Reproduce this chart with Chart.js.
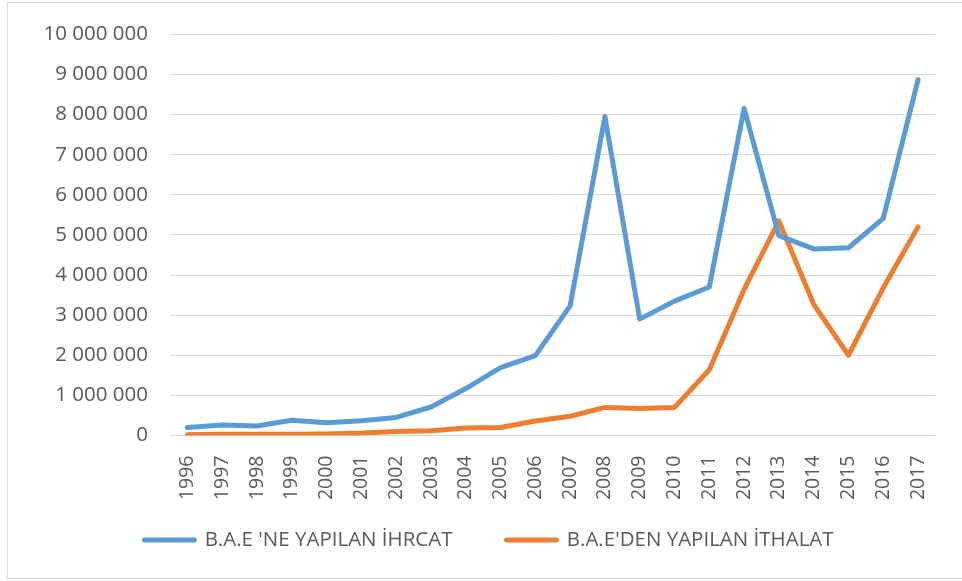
<!DOCTYPE html>
<html>
<head>
<meta charset="utf-8">
<script src="https://cdn.jsdelivr.net/npm/chart.js@4/dist/chart.umd.min.js"></script>
<style>
  html, body { margin: 0; padding: 0; background: #fff; }
  #wrap { position: relative; width: 962px; height: 581px; overflow: hidden; }
  #frame { position: absolute; left: 7px; top: 2px; width: 980px; height: 575px; border: 1px solid #d9d9d9; box-sizing: content-box; pointer-events: none; }
  canvas { position: absolute; left: 0; top: 0; }
</style>
</head>
<body>
<div id="wrap">
  <canvas id="c" width="962" height="581"></canvas>
  <div id="frame"></div>
</div>
<script>
const years = ['1996','1997','1998','1999','2000','2001','2002','2003','2004','2005','2006','2007','2008','2009','2010','2011','2012','2013','2014','2015','2016','2017'];
const ihracat = [200000, 260000, 235000, 380000, 320000, 370000, 450000, 710000, 1170000, 1690000, 1990000, 3230000, 7950000, 2900000, 3350000, 3700000, 8150000, 4980000, 4650000, 4680000, 5410000, 8870000];
const ithalat = [20000, 30000, 30000, 30000, 40000, 60000, 100000, 120000, 185000, 200000, 360000, 480000, 700000, 670000, 700000, 1640000, 3640000, 5350000, 3270000, 2000000, 3680000, 5200000];
const seriesNames = ["B.A.E 'NE YAPILAN İHRCAT", "B.A.E'DEN YAPILAN İTHALAT"];
const yTicks = [0, 1000000, 2000000, 3000000, 4000000, 5000000, 6000000, 7000000, 8000000, 9000000, 10000000];

const FONT = { family: "'Open Sans', 'DejaVu Sans', sans-serif", size: 20.5 };
const XFONT = { family: "'Open Sans', 'DejaVu Sans', sans-serif", size: 19.5 };
const TEXT = '#595959';
const LEG_PAD = 54;

function fmt(v) {
  return String(v).replace(/\B(?=(\d{3})+(?!\d))/g, ' ');
}

// let the rotated x labels extend past the (shortened) axis box without being clipped
const unclipX = {
  id: 'unclipX',
  afterLayout(chart) {
    const x = chart.scales.x;
    x.bottom = x.top + 80;
  }
};

new Chart(document.getElementById('c'), {
  type: 'line',
  plugins: [unclipX],
  data: {
    labels: years,
    datasets: [
      {
        label: seriesNames[0],
        data: ihracat,
        borderColor: '#5B9BD5',
        backgroundColor: '#5B9BD5',
        borderWidth: 5,
        pointRadius: 0,
        tension: 0,
        borderCapStyle: 'round',
        borderJoinStyle: 'round'
      },
      {
        label: seriesNames[1],
        data: ithalat,
        borderColor: '#ED7D31',
        backgroundColor: '#ED7D31',
        borderWidth: 5,
        pointRadius: 0,
        tension: 0,
        borderCapStyle: 'round',
        borderJoinStyle: 'round'
      }
    ]
  },
  options: {
    responsive: false,
    animation: false,
    layout: { padding: { left: 40, right: 24, top: 31, bottom: 20.75 } },
    plugins: {
      tooltip: { enabled: false },
      legend: {
        position: 'bottom',
        align: 'center',
        labels: {
          boxWidth: 50,
          boxHeight: 0.01,
          padding: LEG_PAD,
          color: TEXT,
          font: FONT
        }
      }
    },
    scales: {
      x: {
        offset: true,
        grid: { display: false, drawTicks: false },
        border: { display: false },
        ticks: {
          color: TEXT,
          font: XFONT,
          minRotation: 90,
          maxRotation: 90,
          autoSkip: false,
          padding: 20
        },
        afterFit: (s) => { s.height = 94.25 - LEG_PAD; }
      },
      y: {
        min: 0,
        max: 10000000,
        afterBuildTicks: (s) => { s.ticks = yTicks.map(v => ({ value: v })); },
        grid: { color: '#d9d9d9', lineWidth: 1, drawTicks: false },
        border: { display: false },
        ticks: {
          color: TEXT,
          font: FONT,
          padding: 22,
          callback: (v) => fmt(v)
        },
        afterFit: (s) => { s.width = 130; }
      }
    }
  }
});
</script>
</body>
</html>
